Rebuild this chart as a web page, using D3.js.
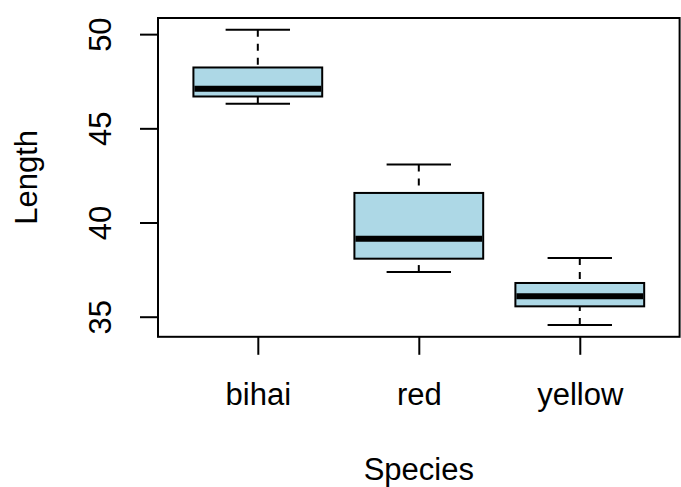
<!DOCTYPE html>
<html>
<head>
<meta charset="utf-8">
<script src="https://cdn.jsdelivr.net/npm/d3@7"></script>
<style>
  html, body { margin: 0; padding: 0; background: #fff; }
  svg { display: block; }
  text { font-family: "Liberation Sans", Arial, sans-serif; fill: #000; }
</style>
</head>
<body>
<script>
// ---- data ----
const categories = ["bihai", "red", "yellow"];
const whiskerLow  = [46.30, 37.37, 34.56];
const quartile1   = [46.69, 38.08, 35.55];
const medians     = [47.10, 39.14, 36.08];
const quartile3   = [48.23, 41.57, 36.79];
const whiskerHigh = [50.23, 43.08, 38.12];
const yTicks = [35, 40, 45, 50];
const xTitle = "Species";
const yTitle = "Length";

const W = 681, H = 487;
const plot = { left: 158, top: 18, right: 679.6, bottom: 336.8 };
const fontSize = 31;

const svg = d3.select("body").append("svg").attr("width", W).attr("height", H);

// R-style 4% expansion
const yMin = d3.min(whiskerLow), yMax = d3.max(whiskerHigh);
const yPad = (yMax - yMin) * 0.04;
const y = d3.scaleLinear().domain([yMin - yPad, yMax + yPad]).range([plot.bottom, plot.top]);
const n = categories.length;
const x = d3.scaleLinear().domain([0.5 - n * 0.04, n + 0.5 + n * 0.04]).range([plot.left, plot.right]);

const boxHalf = 0.4, capHalf = 0.2;

const boxes = categories.map((c, i) => ({
  c, pos: i + 1, lo: whiskerLow[i], q1: quartile1[i], med: medians[i], q3: quartile3[i], hi: whiskerHigh[i]
}));

const g = svg.append("g");

// whiskers (dashed, drawn from whisker end toward the box)
g.selectAll(".wh-up").data(boxes).join("line")
  .attr("x1", d => x(d.pos)).attr("x2", d => x(d.pos))
  .attr("y1", d => y(d.hi)).attr("y2", d => y(d.q3))
  .attr("stroke", "#000").attr("stroke-width", 2).attr("stroke-dasharray", "7,7");
g.selectAll(".wh-lo").data(boxes).join("line")
  .attr("x1", d => x(d.pos)).attr("x2", d => x(d.pos))
  .attr("y1", d => y(d.lo)).attr("y2", d => y(d.q1))
  .attr("stroke", "#000").attr("stroke-width", 2).attr("stroke-dasharray", "7,7");

// caps
["hi", "lo"].forEach(k => {
  g.selectAll(".cap-" + k).data(boxes).join("line")
    .attr("x1", d => x(d.pos - capHalf)).attr("x2", d => x(d.pos + capHalf))
    .attr("y1", d => y(d[k])).attr("y2", d => y(d[k]))
    .attr("stroke", "#000").attr("stroke-width", 2);
});

// boxes
g.selectAll(".box").data(boxes).join("rect")
  .attr("x", d => x(d.pos - boxHalf))
  .attr("width", d => x(d.pos + boxHalf) - x(d.pos - boxHalf))
  .attr("y", d => y(d.q3))
  .attr("height", d => y(d.q1) - y(d.q3))
  .attr("fill", "#ADD8E6").attr("stroke", "#000").attr("stroke-width", 2);

// medians
g.selectAll(".med").data(boxes).join("line")
  .attr("x1", d => x(d.pos - boxHalf) + 1).attr("x2", d => x(d.pos + boxHalf) - 1)
  .attr("y1", d => y(d.med)).attr("y2", d => y(d.med))
  .attr("stroke", "#000").attr("stroke-width", 6);

// frame
svg.append("rect")
  .attr("x", plot.left).attr("y", plot.top)
  .attr("width", plot.right - plot.left).attr("height", plot.bottom - plot.top)
  .attr("fill", "none").attr("stroke", "#000").attr("stroke-width", 2);

// y axis
const yAxis = d3.axisLeft(y).tickValues(yTicks).tickSize(18).tickPadding(0).tickFormat(d3.format("d"));
const ya = svg.append("g").attr("transform", `translate(${plot.left},0)`).call(yAxis);
ya.select(".domain").remove();
ya.selectAll(".tick line").attr("stroke", "#000").attr("stroke-width", 2);
ya.selectAll(".tick text")
  .attr("x", null).attr("dy", null)
  .attr("transform", `translate(${110.5 - plot.left},0) rotate(-90)`)
  .attr("text-anchor", "middle")
  .style("font-size", fontSize + "px")
  .style("font-family", "'Liberation Sans', Arial, sans-serif");

// x axis
const xAxis = d3.axisBottom(x).tickValues(boxes.map(d => d.pos)).tickSize(18).tickPadding(0)
  .tickFormat((d, i) => categories[i]);
const xa = svg.append("g").attr("transform", `translate(0,${plot.bottom})`).call(xAxis);
xa.select(".domain").remove();
xa.selectAll(".tick line").attr("stroke", "#000").attr("stroke-width", 2);
xa.selectAll(".tick text")
  .attr("y", 405 - plot.bottom).attr("dy", null)
  .attr("text-anchor", "middle")
  .style("font-size", fontSize + "px")
  .style("font-family", "'Liberation Sans', Arial, sans-serif");

// titles
svg.append("text")
  .attr("x", (plot.left + plot.right) / 2).attr("y", 480)
  .attr("text-anchor", "middle").style("font-size", fontSize + "px")
  .text(xTitle);
svg.append("text")
  .attr("transform", `translate(37,${(plot.top + plot.bottom) / 2}) rotate(-90)`)
  .attr("text-anchor", "middle").style("font-size", fontSize + "px")
  .text(yTitle);
</script>
</body>
</html>
